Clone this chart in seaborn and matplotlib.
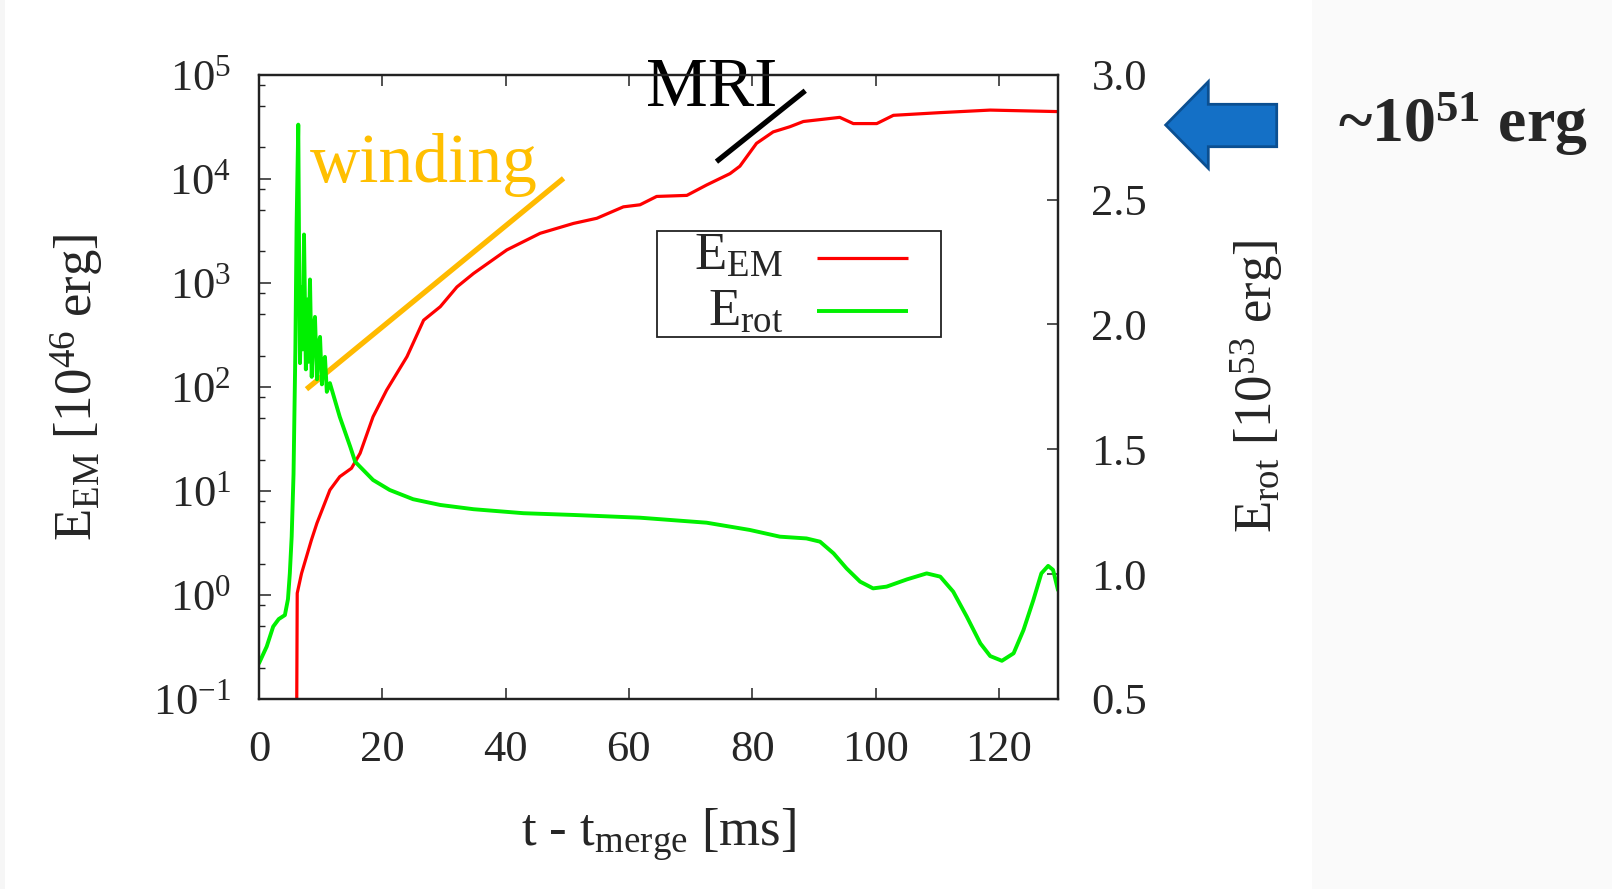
import numpy as np
import pandas as pd
import matplotlib
matplotlib.use("Agg")
import matplotlib.pyplot as plt
import seaborn as sns
from matplotlib.patches import Polygon, Rectangle
from matplotlib.ticker import FixedLocator, LogLocator, FuncFormatter, NullFormatter

# ---------------- data ----------------
# E_EM [1e46 erg] (left, log axis)
t_em = [6.05, 6.2, 6.9, 8.5, 9.4, 11.5, 13.1, 15.0, 16.4, 18.5, 20.7, 24.0, 26.7,
        29.4, 32.1, 34.8, 40.2, 45.6, 51.0, 54.8, 59.1, 61.8, 64.5, 69.4, 72.6,
        76.4, 78.0, 80.7, 83.4, 86.1, 88.3, 94.2, 96.4, 100.2, 102.9, 110.5,
        118.6, 129.6]
e_em = [0.01, 1.04, 1.61, 3.37, 4.9, 10.2, 13.7, 16.5, 23.0, 51.6, 93.0, 195.0,
        437.0, 589.0, 912.0, 1230.0, 2070.0, 2990.0, 3720.0, 4170.0, 5370.0,
        5620.0, 6760.0, 6920.0, 8710.0, 11200.0, 13200.0, 21900.0, 28200.0,
        31600.0, 35500.0, 38900.0, 33900.0, 33900.0, 40700.0, 43200.0, 45700.0,
        44200.0]

# E_rot [1e53 erg] (right, linear axis)
t_rot = [0.0, 1.25, 2.3, 3.2, 4.2, 4.7, 5.0, 5.3, 5.6, 5.9, 6.1, 6.37, 6.5, 6.65,
         6.9, 7.1, 7.3, 7.6, 7.9, 8.0, 8.27, 8.55, 8.8, 9.08, 9.4, 9.65, 9.9,
         10.2, 10.45, 10.7, 11.0, 11.5, 13.1, 14.8, 15.6, 18.5, 21.2, 25.0, 29.4,
         34.8, 42.9, 51.0, 61.8, 72.6, 79.6, 84.5, 88.8, 91.0, 93.2, 95.3, 97.5,
         99.6, 101.8, 105.1, 108.3, 110.5, 112.6, 114.8, 117.0, 118.6, 120.5,
         122.4, 124.0, 125.6, 126.9, 128.0, 128.8, 129.6]
e_rot = [0.643, 0.71, 0.79, 0.82, 0.836, 0.90, 1.003, 1.15, 1.40, 1.90, 2.40, 2.80,
         2.30, 1.845, 2.15, 1.90, 2.36, 1.82, 2.10, 1.85, 2.18, 1.79, 1.98, 2.03,
         1.78, 1.92, 1.95, 1.76, 1.85, 1.87, 1.73, 1.765, 1.63, 1.51, 1.45, 1.377,
         1.337, 1.30, 1.277, 1.26, 1.244, 1.237, 1.226, 1.206, 1.177, 1.15, 1.143,
         1.130, 1.083, 1.023, 0.970, 0.943, 0.950, 0.979, 1.003, 0.990, 0.930,
         0.830, 0.723, 0.672, 0.653, 0.683, 0.776, 0.896, 1.003, 1.033, 1.017,
         0.936]

# guide lines drawn on the plot
winding_t = [7.7, 49.4]
winding_e = [95.0, 10100.0]
mri_t = [74.2, 88.6]
mri_e = [14600.0, 70200.0]

x_ticks = [0, 20, 40, 60, 80, 100, 120]
left_ticks = [1e-1, 1e0, 1e1, 1e2, 1e3, 1e4, 1e5]
right_ticks = [0.5, 1.0, 1.5, 2.0, 2.5, 3.0]

legend_labels = [r"E$_\mathregular{EM}$", r"E$_\mathregular{rot}$"]
RED, GREEN = "#ff0000", "#00f000"

df_em = pd.DataFrame({"t": t_em, "E": e_em})
df_rot = pd.DataFrame({"t": t_rot, "E": e_rot})

# ---------------- style ----------------
sns.set_theme(style="white")
plt.rcParams["font.family"] = ["Liberation Serif", "DejaVu Serif"]
plt.rcParams["mathtext.fontset"] = "custom"
plt.rcParams["mathtext.rm"] = "Liberation Serif"
plt.rcParams["mathtext.it"] = "Liberation Serif:italic"
plt.rcParams["mathtext.bf"] = "Liberation Serif:bold"

W, H = 1612, 889
fig = plt.figure(figsize=(W / 100, H / 100), dpi=100)
fig.patch.set_facecolor("white")
fig.patches.append(Rectangle((1312 / W, 0), 1 - 1312 / W, 1, transform=fig.transFigure,
                             facecolor="#fafafa", edgecolor="none", zorder=0))
fig.patches.append(Rectangle((0, 0), 5 / W, 1, transform=fig.transFigure,
                             facecolor="#f6f6f6", edgecolor="none", zorder=0))

ax = fig.add_axes([259 / W, 1 - 699 / H, 799 / W, 624.3 / H])
ax2 = ax.twinx()

sns.lineplot(data=df_em, x="t", y="E", ax=ax, color=RED, lw=2.3,
             estimator=None, sort=False, legend=False)
sns.lineplot(data=df_rot, x="t", y="E", ax=ax2, color=GREEN, lw=2.8,
             estimator=None, sort=False, legend=False)

ax.plot(winding_t, winding_e, color="#FFBA00", lw=3.8, solid_capstyle="butt", zorder=5)
ax.plot(mri_t, mri_e, color="black", lw=3.8, solid_capstyle="butt", zorder=5, clip_on=False)

ax.set_yscale("log")
ax.set_xlim(0, 129.6)
ax.set_ylim(1e-1, 1e5)
ax2.set_ylim(0.5, 3.0)

ax.xaxis.set_major_locator(FixedLocator(x_ticks))
ax.yaxis.set_major_locator(FixedLocator(left_ticks))
ax.yaxis.set_minor_locator(LogLocator(base=10, subs=[2, 5, 8]))
ax.yaxis.set_minor_formatter(NullFormatter())
ax.yaxis.set_major_formatter(FuncFormatter(
    lambda v, p: r"$\mathregular{10^{%d}}$" % int(round(np.log10(v)))))
ax2.yaxis.set_major_locator(FixedLocator(right_ticks))
ax2.yaxis.set_major_formatter(FuncFormatter(lambda v, p: "%.1f" % v))

tick_fs = 32
ax.tick_params(axis="x", which="major", direction="in", length=8, width=1.1,
               top=True, bottom=True, labelsize=tick_fs, pad=22, color="#222222")
ax.tick_params(axis="y", which="major", direction="in", length=8.5, width=1.1,
               left=True, right=False, labelsize=tick_fs, pad=20, color="#222222")
ax.tick_params(axis="y", which="minor", direction="in", length=4.5, width=1.0,
               left=True, right=False, color="#222222")
ax2.tick_params(axis="y", which="major", direction="in", length=8, width=1.1,
                right=True, left=False, labelsize=tick_fs, pad=24, color="#222222")
ax2.tick_params(axis="y", which="minor", length=0)

for a in (ax, ax2):
    for s in a.spines.values():
        s.set_color("#222222")
        s.set_linewidth(1.6)
        s.set_visible(True)

ax.set_xlabel(r"t - t$_\mathregular{merge}$ [ms]", fontsize=38)
ax.xaxis.set_label_coords(0.5, -0.172)
ax.set_ylabel(r"E$_\mathregular{EM}$ [10$^\mathregular{46}$ erg]", fontsize=38)
ax.yaxis.set_label_coords(-0.192, 0.5)
ax2.set_ylabel(r"E$_\mathregular{rot}$ [10$^\mathregular{53}$ erg]", fontsize=38)
ax2.yaxis.set_label_coords(1.214, 0.5)

# gnuplot-style key: right-aligned label followed by a line sample
ax2.add_patch(Rectangle((0.4977, 0.5794), 0.8536 - 0.4977, 0.7496 - 0.5794,
                        transform=ax2.transAxes, facecolor="white",
                        edgecolor="#222222", lw=1.3, zorder=8))
key_rows_y = [0.7069, 0.622]
key_text_y = [0.6872, 0.5991]
for lab, col, lw, ly, ty in zip(legend_labels, [RED, GREEN], [2.3, 2.8],
                                key_rows_y, key_text_y):
    ax2.plot([0.698, 0.8126], [ly, ly], transform=ax2.transAxes, color=col, lw=lw,
             zorder=9, solid_capstyle="butt")
    ax2.text(0.6558, ty, lab, transform=ax2.transAxes, fontsize=38, ha="right",
             va="baseline", zorder=9)

ax.text(8.3, 9.4e3, "winding", color="#FFBF00", fontsize=50, ha="left", va="baseline",
        zorder=6)
ax.text(62.7, 5.0e4, "MRI", color="black", fontsize=50, ha="left", va="baseline",
        clip_on=False, zorder=6)

fig.text(1338 / W, 1 - 141.7 / H, r"~10$^\mathbf{51}$ erg", fontweight="bold",
         fontsize=46, ha="left", va="baseline")

arrow_px = [(1165.7, 125), (1208.3, 81.7), (1208.3, 104.3), (1276.7, 104.3),
            (1276.7, 146.7), (1208.3, 146.7), (1208.3, 168.3)]
fig.patches.append(Polygon([(x / W, 1 - y / H) for x, y in arrow_px], closed=True,
                           transform=fig.transFigure, facecolor="#1470C6",
                           edgecolor="#0B4F91", linewidth=2.0, zorder=3))

fig.savefig("out.png", dpi=100, facecolor=fig.get_facecolor())
